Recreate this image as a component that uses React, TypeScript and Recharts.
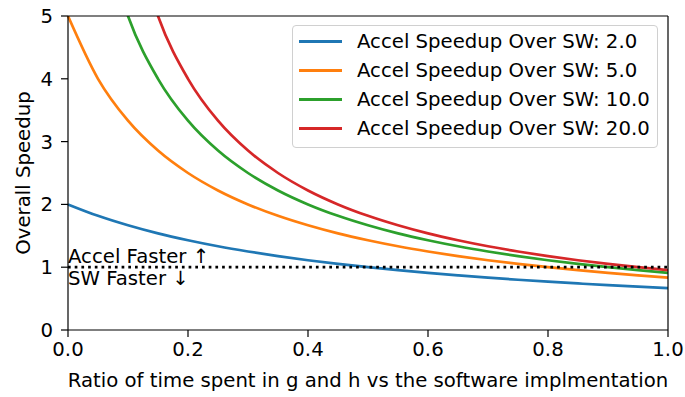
import React from 'react';
import { LineChart, Line, XAxis, YAxis, ReferenceLine } from 'recharts';

const ratios = [0, 0.05, 0.1, 0.15, 0.2, 0.25, 0.3, 0.35, 0.4, 0.45, 0.5, 0.55, 0.6, 0.65, 0.7, 0.75, 0.8, 0.85, 0.9, 0.95, 1];

const speedup2 = [2, 1.818, 1.667, 1.538, 1.429, 1.333, 1.25, 1.176, 1.111, 1.053, 1, 0.952, 0.909, 0.87, 0.833, 0.8, 0.769, 0.741, 0.714, 0.69, 0.667];
const speedup5 = [5, 4, 3.333, 2.857, 2.5, 2.222, 2, 1.818, 1.667, 1.538, 1.429, 1.333, 1.25, 1.176, 1.111, 1.053, 1, 0.952, 0.909, 0.87, 0.833];
const speedup10 = [10, 6.667, 5, 4, 3.333, 2.857, 2.5, 2.222, 2, 1.818, 1.667, 1.538, 1.429, 1.333, 1.25, 1.176, 1.111, 1.053, 1, 0.952, 0.909];
const speedup20 = [20, 10, 6.667, 5, 4, 3.333, 2.857, 2.5, 2.222, 2, 1.818, 1.667, 1.538, 1.429, 1.333, 1.25, 1.176, 1.111, 1.053, 1, 0.952];

const seriesNames = [
  'Accel Speedup Over SW: 2.0',
  'Accel Speedup Over SW: 5.0',
  'Accel Speedup Over SW: 10.0',
  'Accel Speedup Over SW: 20.0',
];
const COLORS = ['#1f77b4', '#ff7f0e', '#2ca02c', '#d62728'];

const xTicks = [0, 0.2, 0.4, 0.6, 0.8, 1];
const yTicks = [0, 1, 2, 3, 4, 5];

const data = ratios.map((r, i) => ({
  r,
  s2: speedup2[i],
  s5: speedup5[i],
  s10: speedup10[i],
  s20: speedup20[i],
}));
const keys = ['s2', 's5', 's10', 's20'];

const FONT = 'DejaVu Sans, sans-serif';
const FS = 19.7;

// matplotlib style legend box, placed over the plot
const LegendBox = () => (
  <div
    style={{
      position: 'absolute',
      left: 292,
      top: 25,
      width: 366,
      height: 123,
      boxSizing: 'border-box',
      border: '1.5px solid #d0d0d0',
      borderRadius: 4,
      background: 'rgba(255,255,255,0.8)',
      padding: '1px 0 0 6px',
      fontFamily: FONT,
      fontSize: FS,
      color: '#000',
    }}
  >
    {seriesNames.map((name, i) => (
      <div key={name} style={{ display: 'flex', alignItems: 'center', height: 29 }}>
        <div style={{ width: 43, height: 2.7, background: COLORS[i], marginRight: 15 }} />
        <span style={{ whiteSpace: 'nowrap' }}>{name}</span>
      </div>
    ))}
  </div>
);

export default function App() {
  const tickStyle = { fill: '#000', fontSize: FS, fontFamily: FONT };
  return (
    <div style={{ position: 'absolute', left: 0, top: 0, width: 685, height: 397, background: '#fff' }}>
      <LineChart width={685} height={397} data={data} margin={{ top: 16, right: 17, left: 0, bottom: 0 }}>
        <XAxis
          dataKey="r"
          type="number"
          domain={[0, 1]}
          ticks={xTicks}
          tickFormatter={(v: number) => v.toFixed(1)}
          height={67}
          stroke="#000"
          strokeWidth={1.2}
          tick={tickStyle}
          tickSize={7}
          tickMargin={5}
          label={{ value: 'Ratio of time spent in g and h vs the software implmentation', position: 'insideBottom', offset: 10, fill: '#000', fontSize: FS, fontFamily: FONT }}
        />
        <YAxis
          type="number"
          domain={[0, 5]}
          ticks={yTicks}
          allowDataOverflow
          width={68}
          stroke="#000"
          strokeWidth={1.2}
          tick={tickStyle}
          tickSize={7}
          tickMargin={8}
          label={{ value: 'Overall Speedup', angle: -90, position: 'insideLeft', offset: 23, fill: '#000', fontSize: FS, fontFamily: FONT, style: { textAnchor: 'middle' } }}
        />
        {keys.map((k, i) => (
          <Line
            key={k}
            dataKey={k}
            name={seriesNames[i]}
            type="monotone"
            stroke={COLORS[i]}
            strokeWidth={2.7}
            dot={false}
            activeDot={false}
            isAnimationActive={false}
          />
        ))}
        <ReferenceLine
          y={1}
          stroke="#000"
          strokeWidth={2.7}
          strokeDasharray="2.7 4"
          label={{ value: 'Accel Faster ↑', position: 'insideBottomLeft', offset: 4, dx: -4, fill: '#000', fontSize: FS, fontFamily: FONT }}
        />
        <ReferenceLine
          y={1}
          stroke="none"
          label={{ value: 'SW Faster ↓', position: 'insideTopLeft', offset: 4, dx: -4, fill: '#000', fontSize: FS, fontFamily: FONT }}
        />
        {/* top and right spines */}
        <ReferenceLine y={5} stroke="#000" strokeWidth={1.2} />
        <ReferenceLine x={1} stroke="#000" strokeWidth={1.2} />
      </LineChart>
      <LegendBox />
    </div>
  );
}
